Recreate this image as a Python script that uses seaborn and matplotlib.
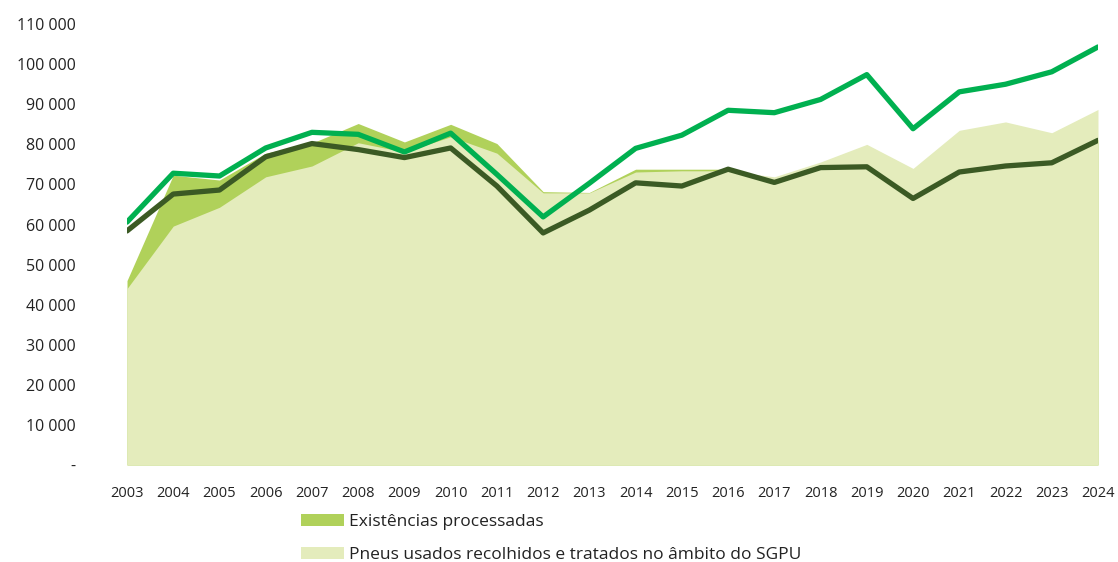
import numpy as np
import pandas as pd
import matplotlib
matplotlib.use('Agg')
import matplotlib.pyplot as plt
from matplotlib.patches import Patch
from matplotlib.ticker import FuncFormatter
import seaborn as sns

# Data
years = list(range(2003, 2025))
existencias = [46000, 72300, 71100, 77800, 80300, 85200, 80600, 85000, 80200, 68200,
               68000, 73800, 73800, 73800, 71500, 74400, 74600, 66700, 73300, 74800,
               75600, 81200]
recolhidos = [44000, 59600, 64300, 71900, 74600, 80400, 78100, 81900, 77800, 67900,
              67900, 73100, 73400, 73400, 71900, 75600, 80000, 74000, 83500, 85600,
              82900, 88700]
linha_verde = [60600, 72800, 72100, 79100, 83000, 82500, 78100, 82800, 72500, 61900,
               70300, 79000, 82300, 88500, 87900, 91200, 97400, 83900, 93100, 95000,
               98100, 104300]
linha_escura = [58400, 67600, 68600, 76900, 80200, 78700, 76700, 79100, 69600, 57900,
                63600, 70400, 69600, 73800, 70500, 74200, 74400, 66500, 73100, 74600,
                75400, 81000]

labels = ['Existências processadas',
          'Pneus usados recolhidos e tratados no âmbito do SGPU']

df = pd.DataFrame({'ano': years, 'verde': linha_verde, 'escura': linha_escura})

sns.set_style('white')
plt.rcParams['font.family'] = ['Open Sans', 'DejaVu Sans']

fig = plt.figure(figsize=(11.18, 5.62), dpi=100)
ax = fig.add_axes([0.1136, 0.1726, 0.8685, 0.7845])

c_exist = '#b0d15a'
c_recol = '#e4ecbc'
ax.fill_between(years, existencias, color=c_exist, lw=0)
ax.fill_between(years, recolhidos, color=c_recol, lw=0)

sns.lineplot(data=df, x='ano', y='verde', color='#00b050', linewidth=3.8,
             solid_capstyle='round', ax=ax)
sns.lineplot(data=df, x='ano', y='escura', color='#3b5a24', linewidth=3.8,
             solid_capstyle='round', ax=ax)

ax.set_xlim(2003, 2024)
ax.set_ylim(0, 110000)
ax.set_yticks(np.arange(0, 110001, 10000))
ax.set_xticks(years)
ax.yaxis.set_major_formatter(FuncFormatter(
    lambda v, p: '-' if v == 0 else f'{v:,.0f}'.replace(',', ' ')))
ax.set_xlabel('')
ax.set_ylabel('')
ax.tick_params(axis='y', labelsize=11.5, pad=37, length=0, colors='#222222')
ax.tick_params(axis='x', labelsize=10.5, pad=15, length=0, colors='#222222')
for s in ax.spines.values():
    s.set_visible(False)
ax.grid(False)

handles = [Patch(facecolor=c_exist, edgecolor='none'),
           Patch(facecolor=c_recol, edgecolor='none')]
fig.legend(handles, labels, loc='upper left', bbox_to_anchor=(0.269, 0.086),
           frameon=False, fontsize=12.5, handlelength=2.5, handleheight=0.7,
           labelspacing=1.0, borderpad=0, borderaxespad=0, handletextpad=0.3,
           labelcolor='#222222')

fig.savefig('out.png', dpi=100)
